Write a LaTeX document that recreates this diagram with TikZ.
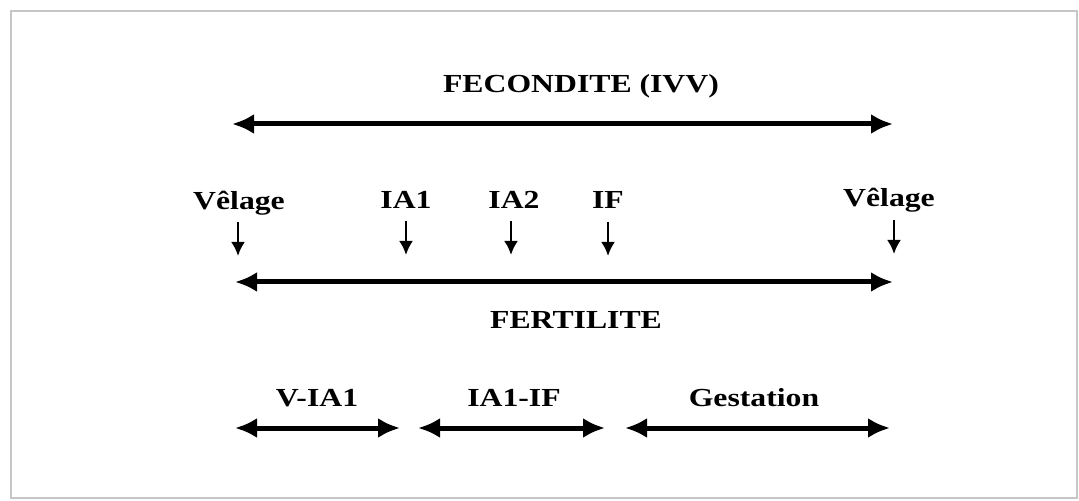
\documentclass[tikz,border=0pt]{standalone}
\usepackage{fontspec}
\setmainfont[FakeStretch=1.22]{Liberation Serif}
\usetikzlibrary{arrows.meta}

\begin{document}
\begin{tikzpicture}[x=0.5pt, y=-0.5pt,
    lbl/.style={font=\bfseries\fontsize{13}{15}\selectfont, inner sep=0pt, anchor=base},
    span/.style={line width=2.5pt, {Latex[length=11pt,width=10pt]}-{Latex[length=11pt,width=10pt]}},
    tick/.style={line width=1.3pt, -{Latex[length=7pt,width=7pt]}}]
  \useasboundingbox (0,0) rectangle (1079,501);
  \draw[gray!45, line width=1.2pt] (11,11) rectangle (1077,498);

  % fecondite
  \node[lbl] (fec) at (581,93) {FECONDITE (IVV)};
  \coordinate (fecL) at (232,124);
  \coordinate (fecR) at (893,124);
  \draw[span] (fecL) -- (fecR);

  % events
  \node[lbl] (vel1) at (239,210) {Vêlage};
  \node[lbl] (ia1) at (406,209) {IA1};
  \node[lbl] (ia2) at (514,209) {IA2};
  \node[lbl] (if) at (608,209) {IF};
  \node[lbl] (vel2) at (889,207) {Vêlage};
  \coordinate (vel1a) at (238,222);  \coordinate (vel1b) at (238,256);
  \coordinate (ia1a) at (406,221);   \coordinate (ia1b) at (406,255);
  \coordinate (ia2a) at (511,221);   \coordinate (ia2b) at (511,255);
  \coordinate (ifa) at (608,222);    \coordinate (ifb) at (608,256);
  \coordinate (vel2a) at (894,220);  \coordinate (vel2b) at (894,254);
  \draw[tick] (vel1a) -- (vel1b);
  \draw[tick] (ia1a) -- (ia1b);
  \draw[tick] (ia2a) -- (ia2b);
  \draw[tick] (ifa) -- (ifb);
  \draw[tick] (vel2a) -- (vel2b);

  % fertilite
  \coordinate (ferL) at (235,282);
  \coordinate (ferR) at (893,282);
  \draw[span] (ferL) -- (ferR);
  \node[lbl] (fer) at (576,329) {FERTILITE};

  % intervals
  \node[lbl] (via) at (317,406) {V-IA1};
  \node[lbl] (iaif) at (514,406) {IA1-IF};
  \node[lbl] (gest) at (754,406) {Gestation};
  \coordinate (viaL) at (235,428);   \coordinate (viaR) at (400,428);
  \coordinate (iaifL) at (418,428);  \coordinate (iaifR) at (605,428);
  \coordinate (gestL) at (625,428);  \coordinate (gestR) at (890,428);
  \draw[span] (viaL) -- (viaR);
  \draw[span] (iaifL) -- (iaifR);
  \draw[span] (gestL) -- (gestR);
\end{tikzpicture}
\end{document}
